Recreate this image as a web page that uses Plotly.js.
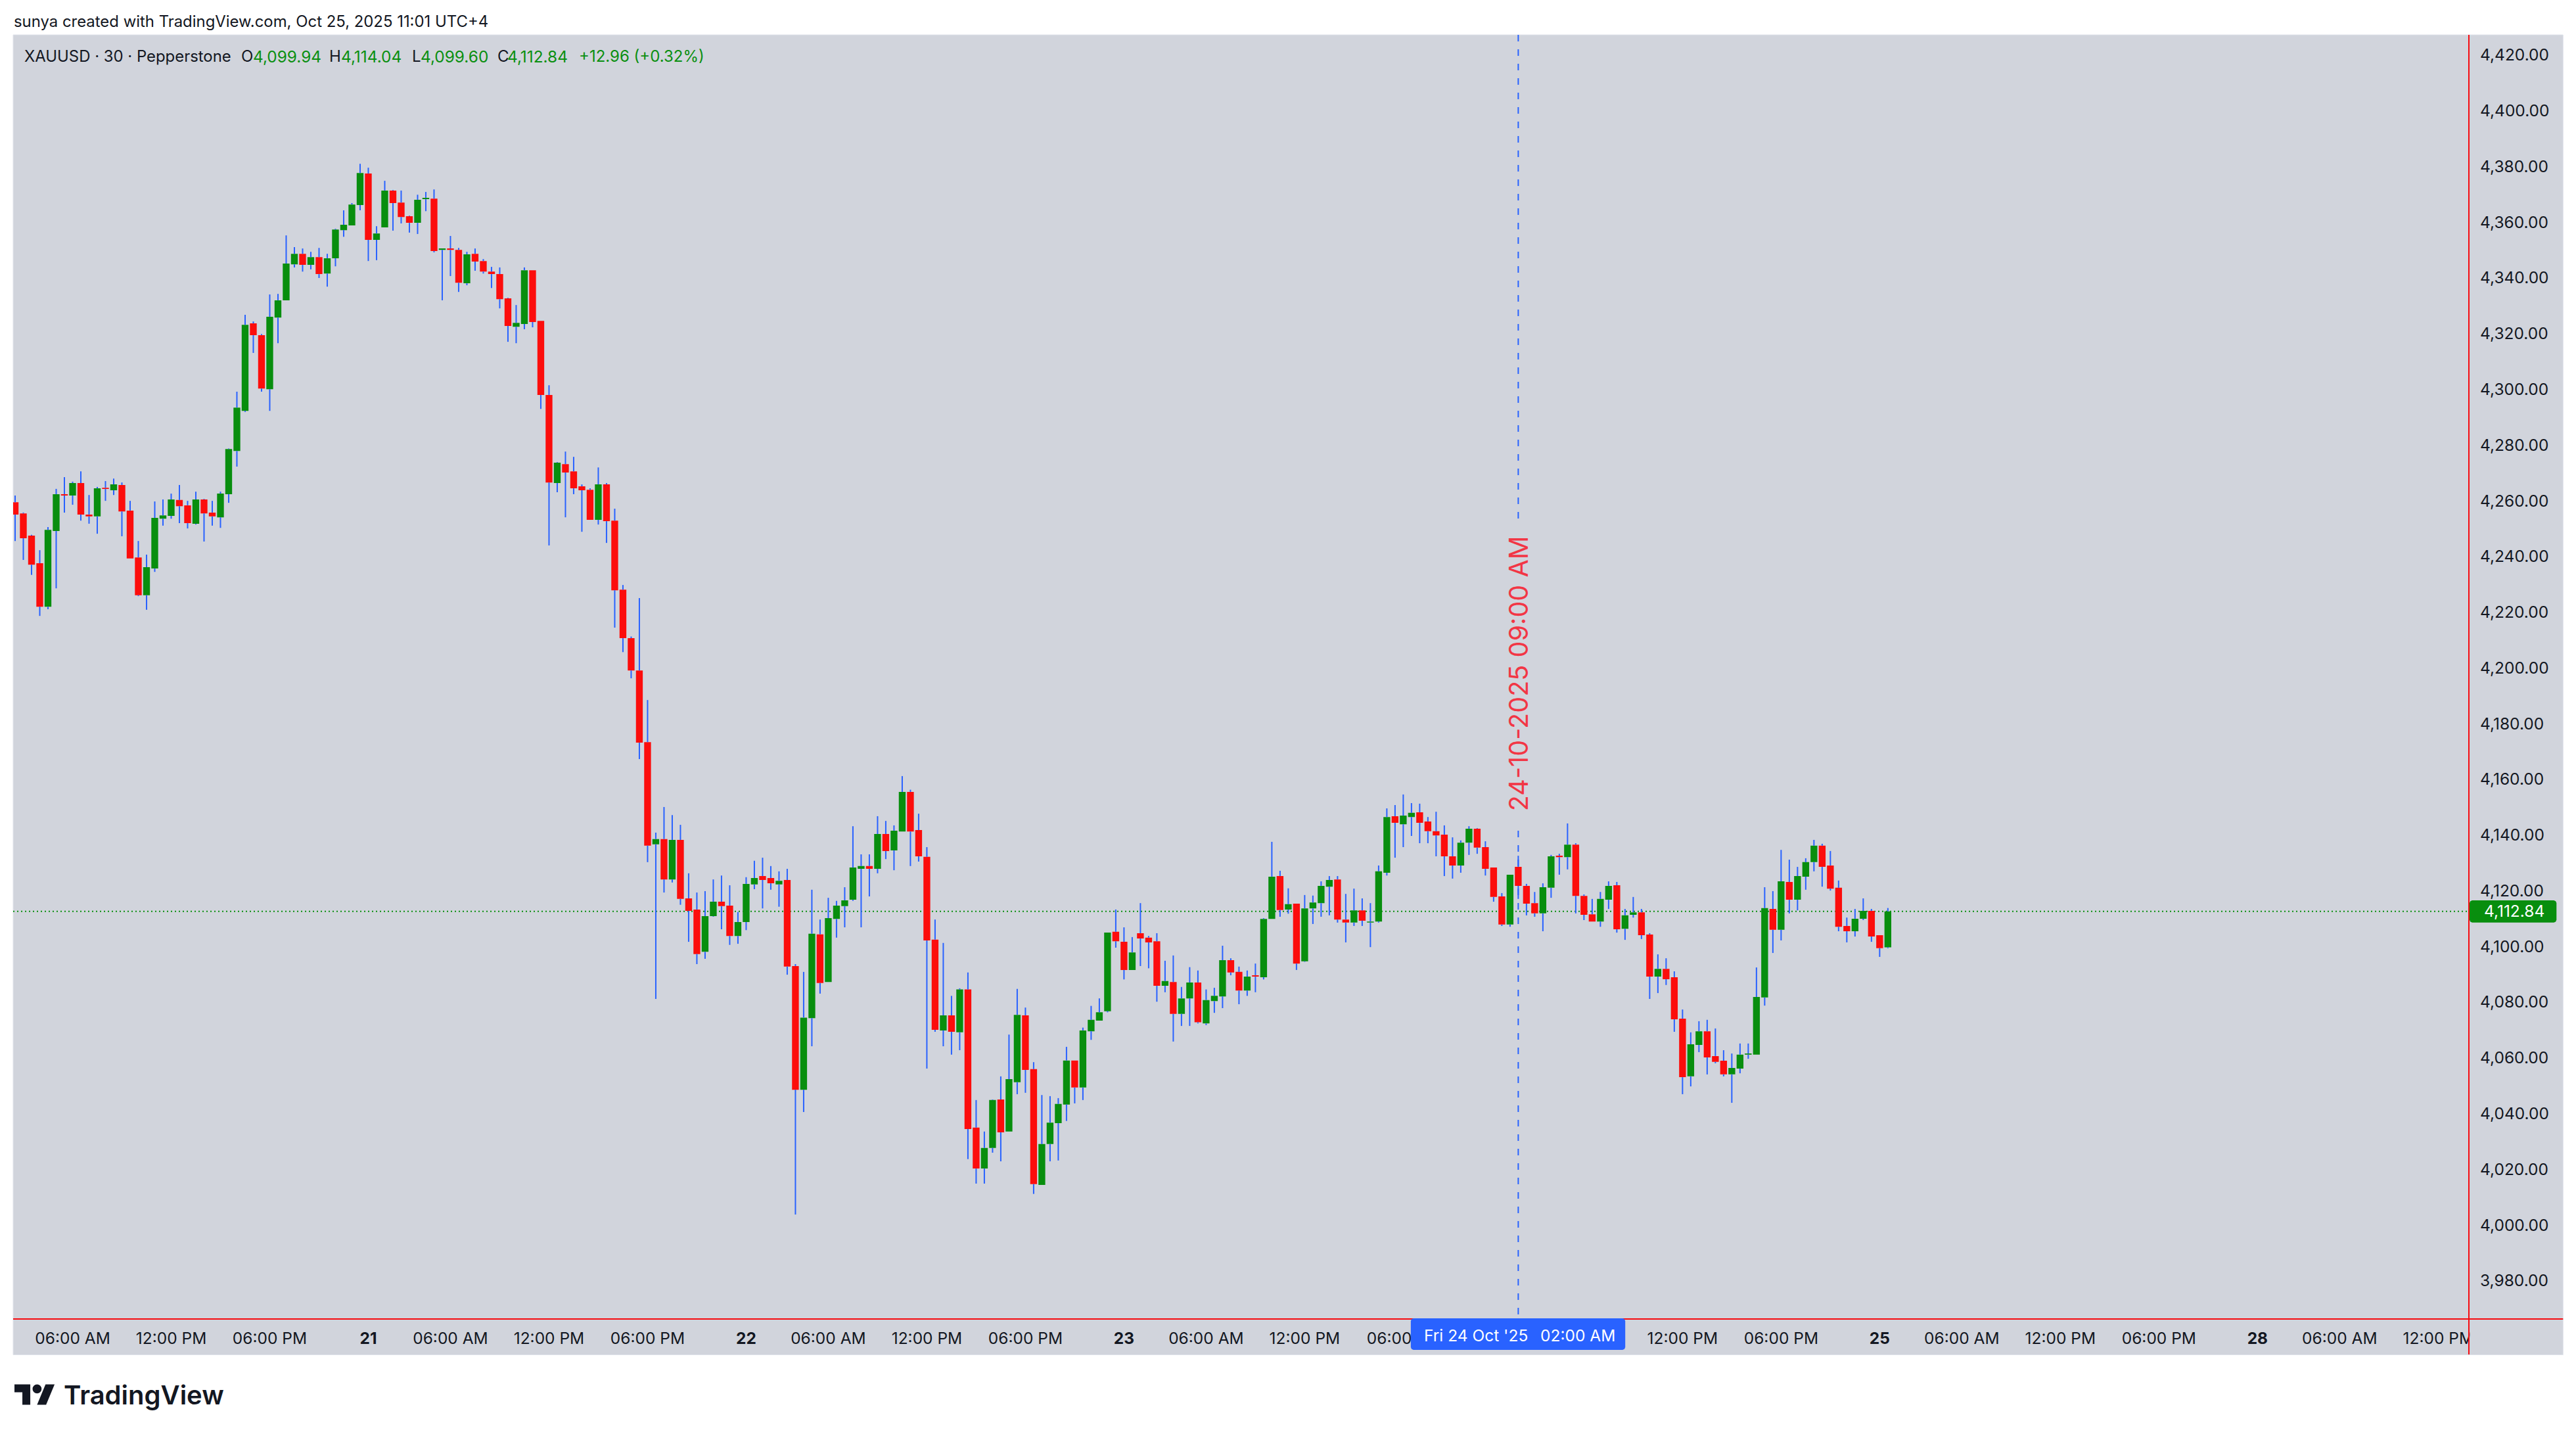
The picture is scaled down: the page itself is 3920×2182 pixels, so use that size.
<!DOCTYPE html>
<html>
<head>
<meta charset="utf-8">
<script src="https://cdn.plot.ly/plotly-3.0.1.min.js"></script>
<style>html,body{margin:0;padding:0;background:#fff}#chart{width:3920px;height:2182px}</style>
</head>
<body>
<div id="chart"></div>
<script>
var opens = [
4259.7,4255.7,4247.7,4237.8,4222.2,4249.4,4262.6,4262.1,4266.6,4255.3,
4254.6,4264.9,4264.0,4265.9,4256.7,4239.9,4226.3,4235.9,4253.8,4254.8,
4260.5,4258.6,4252.0,4260.7,4256.0,4254.3,4262.6,4278.1,4292.5,4323.9,
4319.7,4300.3,4326.0,4332.2,4345.1,4348.9,4344.9,4347.7,4341.8,4347.3,
4357.4,4359.1,4366.4,4377.7,4353.9,4358.4,4371.6,4367.3,4362.4,4360.0,
4368.5,4368.7,4350.3,4350.8,4350.3,4338.3,4348.9,4346.3,4342.5,4341.6,
4332.9,4322.7,4323.7,4343.0,4324.8,4298.2,4266.6,4273.4,4270.8,4265.4,
4264.2,4253.4,4266.1,4253.1,4228.3,4210.9,4199.3,4173.6,4136.9,4138.8,
4124.3,4138.5,4117.5,4113.5,4098.3,4111.1,4116.3,4114.9,4104.0,4109.0,
4122.5,4125.5,4124.8,4122.5,4124.1,4093.2,4048.8,4074.5,4104.6,4087.5,
4110.1,4114.7,4117.0,4128.1,4129.1,4128.1,4140.6,4134.7,4141.5,4155.7,
4142.0,4132.4,4102.7,4070.1,4075.5,4069.4,4084.8,4035.2,4020.5,4027.9,
4045.3,4033.8,4051.5,4075.5,4056.2,4014.6,4029.3,4036.8,4043.5,4059.3,
4049.6,4069.8,4073.6,4077.0,4105.5,4101.9,4091.8,4105.0,4103.4,4102.1,
4086.1,4087.5,4076.0,4081.6,4087.3,4072.6,4080.6,4082.3,4095.3,4091.1,
4084.4,4089.9,4089.2,4110.1,4125.5,4113.5,4115.6,4094.9,4113.9,4115.8,
4121.7,4124.3,4109.9,4108.8,4113.2,4108.8,4109.2,4126.7,4147.0,4144.1,
4146.7,4148.4,4145.1,4141.6,4140.4,4132.6,4129.3,4137.5,4142.5,4135.9,
4128.6,4118.2,4108.1,4128.8,4122.0,4115.8,4112.1,4121.3,4132.8,4132.3,
4136.8,4118.4,4111.8,4109.2,4117.0,4122.2,4106.6,4111.6,4112.5,4104.5,
4089.4,4092.2,4089.2,4074.3,4053.6,4064.9,4069.8,4060.9,4059.2,4054.3,
4056.4,4061.4,4061.4,4081.9,4113.7,4106.2,4123.4,4117.0,4125.3,4130.5,
4136.4,4129.3,4121.3,4107.6,4105.7,4110.2,4113.0,4104.3,4099.94];
var highs = [
4262.1,4256.0,4248.0,4242.5,4250.8,4264.5,4268.7,4267.1,4270.8,4262.3,
4265.2,4267.3,4268.2,4266.8,4260.2,4245.8,4240.9,4260.0,4260.7,4262.8,
4265.9,4260.2,4263.5,4260.9,4260.2,4263.5,4279.0,4299.4,4327.0,4324.6,
4320.1,4334.3,4334.5,4355.5,4351.3,4350.8,4349.6,4351.0,4348.9,4357.9,
4364.5,4367.1,4381.2,4379.8,4358.8,4375.1,4371.8,4371.6,4362.6,4370.1,
4371.1,4372.0,4350.8,4355.3,4351.0,4349.6,4350.8,4347.0,4344.2,4344.0,
4333.1,4330.5,4344.0,4343.0,4324.8,4301.7,4274.1,4277.9,4276.0,4266.1,
4264.7,4272.2,4266.6,4257.4,4230.0,4211.5,4225.3,4188.7,4141.1,4150.3,
4147.4,4143.9,4126.5,4119.6,4120.1,4124.3,4125.7,4122.2,4112.6,4125.1,
4131.0,4132.1,4129.1,4127.2,4128.1,4093.9,4091.1,4120.6,4109.9,4117.7,
4116.6,4121.5,4143.4,4133.3,4133.3,4147.0,4145.3,4143.7,4161.4,4156.5,
4147.9,4135.9,4109.9,4101.5,4082.5,4085.2,4090.9,4045.1,4033.8,4045.3,
4053.6,4068.6,4085.0,4078.3,4058.7,4046.9,4046.5,4045.8,4064.2,4059.3,
4071.1,4078.9,4081.6,4105.2,4113.5,4107.1,4103.6,4115.8,4104.0,4105.0,
4095.1,4097.0,4085.7,4092.8,4091.6,4084.8,4085.4,4100.5,4096.0,4093.0,
4091.6,4094.1,4110.4,4137.8,4127.4,4121.1,4115.6,4118.7,4118.5,4123.6,
4125.5,4125.5,4119.1,4121.0,4117.5,4115.8,4129.3,4149.8,4151.0,4154.8,
4151.7,4151.5,4146.7,4148.6,4143.7,4139.4,4138.3,4143.4,4142.7,4138.0,
4128.6,4119.4,4126.0,4132.8,4122.7,4119.8,4122.9,4133.1,4133.5,4144.4,
4137.3,4118.9,4117.3,4119.8,4123.6,4123.4,4113.7,4118.0,4113.7,4105.0,
4097.4,4096.0,4091.3,4077.6,4069.4,4073.4,4073.9,4070.8,4063.0,4061.8,
4065.4,4065.4,4092.7,4121.5,4120.1,4134.9,4131.4,4128.8,4131.9,4138.5,
4137.1,4134.5,4123.9,4110.6,4113.7,4117.5,4113.7,4104.3,4114.04];
var lows = [
4245.8,4239.0,4233.6,4218.9,4221.3,4228.8,4256.0,4258.8,4253.1,4252.0,
4248.4,4260.2,4262.3,4247.5,4239.5,4226.0,4221.1,4234.7,4251.3,4253.8,
4252.2,4250.3,4251.7,4245.6,4251.3,4250.5,4259.5,4272.5,4292.1,4313.3,
4299.4,4292.5,4316.8,4332.2,4344.0,4342.5,4343.3,4340.2,4337.1,4344.4,
4355.0,4359.1,4364.5,4346.3,4346.6,4358.4,4357.2,4359.8,4356.5,4356.0,
4364.2,4349.4,4332.2,4340.9,4335.2,4337.6,4342.8,4341.8,4336.6,4329.3,
4317.3,4316.8,4321.8,4322.5,4293.2,4244.2,4263.3,4254.3,4262.6,4249.1,
4253.4,4251.7,4245.1,4214.7,4205.9,4196.5,4167.5,4130.5,4081.4,4119.6,
4123.2,4115.2,4101.9,4093.9,4095.8,4110.9,4106.4,4100.8,4101.2,4106.1,
4120.8,4113.9,4120.6,4114.5,4090.1,4004.0,4040.8,4064.4,4083.3,4087.5,
4103.4,4107.1,4116.6,4107.1,4118.2,4126.5,4131.6,4127.6,4141.5,4129.1,
4130.7,4056.4,4069.6,4064.4,4061.4,4063.0,4023.9,4015.1,4015.1,4026.2,
4023.1,4033.8,4047.2,4047.7,4011.4,4014.6,4023.1,4023.4,4037.6,4043.9,
4045.1,4066.7,4073.6,4076.6,4099.8,4088.4,4091.8,4093.2,4092.4,4080.4,
4083.8,4066.1,4071.7,4071.7,4072.6,4072.0,4076.4,4078.1,4089.9,4079.5,
4082.5,4083.8,4088.4,4110.1,4110.9,4112.0,4091.8,4094.7,4108.3,4110.9,
4111.4,4108.8,4101.7,4107.6,4107.6,4100.0,4108.8,4125.7,4132.1,4135.9,
4139.9,4137.3,4137.3,4132.6,4125.5,4124.6,4126.7,4133.1,4133.5,4125.7,
4116.3,4107.6,4107.3,4117.3,4111.4,4110.9,4105.7,4117.7,4126.0,4127.9,
4112.1,4109.7,4109.2,4107.3,4113.7,4105.2,4102.6,4110.6,4102.9,4081.4,
4083.5,4086.4,4069.6,4047.2,4050.0,4062.3,4054.3,4058.3,4053.6,4044.1,
4054.7,4059.9,4061.4,4079.0,4097.9,4102.4,4112.1,4113.2,4120.6,4127.2,
4121.7,4120.3,4105.7,4101.7,4103.8,4109.7,4101.9,4096.5,4099.60];
var closes = [
4255.3,4246.8,4237.3,4222.2,4249.8,4262.6,4262.1,4266.6,4255.3,4254.6,
4264.7,4264.5,4266.1,4256.4,4239.5,4226.3,4236.4,4254.1,4255.0,4260.7,
4258.3,4252.2,4260.7,4255.7,4254.6,4262.8,4278.8,4293.7,4323.4,4319.7,
4300.5,4326.3,4332.2,4345.4,4348.9,4344.9,4347.7,4341.6,4347.3,4357.6,
4359.3,4366.6,4377.9,4353.9,4356.2,4371.6,4367.1,4362.1,4360.0,4368.3,
4369.0,4349.9,4350.8,4350.3,4338.5,4348.7,4346.1,4342.5,4341.6,4332.6,
4323.0,4324.1,4343.0,4324.4,4298.2,4266.8,4273.9,4270.4,4264.7,4264.0,
4253.4,4266.1,4252.9,4228.1,4210.9,4199.3,4173.4,4136.4,4138.8,4124.3,
4138.5,4117.3,4113.0,4097.5,4111.1,4116.3,4114.7,4104.0,4109.0,4122.7,
4124.8,4124.1,4122.9,4123.8,4093.0,4048.8,4074.7,4104.8,4087.1,4110.4,
4114.9,4116.8,4128.6,4129.1,4128.1,4140.6,4134.5,4141.8,4155.7,4141.5,
4132.6,4102.4,4070.3,4075.5,4069.6,4084.8,4034.7,4020.5,4027.9,4045.1,
4033.5,4052.6,4075.7,4055.9,4014.9,4029.3,4037.0,4043.7,4059.3,4049.6,
4070.1,4073.9,4076.6,4105.2,4102.1,4091.8,4098.1,4103.1,4101.7,4086.1,
4087.8,4076.0,4081.6,4087.3,4073.0,4081.0,4082.5,4095.3,4090.9,4084.4,
4089.4,4089.4,4110.1,4125.3,4113.3,4115.4,4094.1,4113.9,4116.0,4122.0,
4124.1,4109.9,4108.8,4113.2,4109.5,4109.2,4127.2,4146.7,4144.6,4147.2,
4148.2,4144.6,4141.6,4140.1,4132.6,4129.3,4137.5,4142.5,4135.7,4128.1,
4118.0,4108.1,4126.0,4122.0,4115.6,4112.1,4121.5,4132.6,4132.3,4136.8,
4118.4,4111.6,4109.2,4117.3,4122.0,4106.4,4111.4,4112.5,4104.3,4089.4,
4092.2,4088.5,4074.1,4053.3,4065.1,4069.8,4060.4,4058.8,4054.3,4056.6,
4061.4,4061.8,4082.1,4114.0,4106.2,4123.6,4117.0,4125.5,4130.5,4136.4,
4128.8,4121.0,4107.3,4105.7,4110.2,4113.0,4103.8,4099.6,4112.84];

var xTickPositions = [7,19,31,43,53,65,77,89,99,111,123,135,145,157,167.3,203,215,227,237,249,261,273,283,295];
var xTickLabels = ['06:00 AM','12:00 PM','06:00 PM','<b>21</b>','06:00 AM','12:00 PM','06:00 PM','<b>22</b>','06:00 AM','12:00 PM','06:00 PM','<b>23</b>','06:00 AM','12:00 PM','06:00','12:00 PM','06:00 PM','<b>25</b>','06:00 AM','12:00 PM','06:00 PM','<b>28</b>','06:00 AM','12:00 PM'];
var yTickValues = [3980,4000,4020,4040,4060,4080,4100,4120,4140,4160,4180,4200,4220,4240,4260,4280,4300,4320,4340,4360,4380,4400,4420];
var lastPrice = 4112.84;
var markedBar = 183;

var BG = '#d1d4dc', RED = '#fc0d0c', GREEN = '#088e0e', BLUE = '#2962ff', INK = '#131722', LINE_RED = '#f60a0f';
var FONT = 'Inter, "Noto Sans", sans-serif';
var L = 20, R = 3756.7, T = 53, B = 2007;
function px(x){ return (x - L) / (R - L); }
function py(y){ return (B - y) / (B - T); }

var index = opens.map(function(_, i){ return i; });
var wx = [], wy = [];
index.forEach(function(i){
  var top = Math.max(opens[i], closes[i]), bot = Math.min(opens[i], closes[i]);
  if (highs[i] > top) { wx.push(i, i, null); wy.push(top, highs[i], null); }
  if (lows[i] < bot) { wx.push(i, i, null); wy.push(bot, lows[i], null); }
});

var traces = [
  { type:'candlestick', x:index, open:opens, close:closes,
    high:index.map(function(i){ return Math.max(opens[i], closes[i]); }),
    low:index.map(function(i){ return Math.min(opens[i], closes[i]); }),
    whiskerwidth:0,
    increasing:{ line:{ color:GREEN, width:0 }, fillcolor:GREEN },
    decreasing:{ line:{ color:RED, width:0 }, fillcolor:RED },
    hoverinfo:'skip', showlegend:false },
  { type:'scatter', mode:'lines', x:wx, y:wy, connectgaps:false,
    line:{ color:BLUE, width:2 }, hoverinfo:'skip', showlegend:false }
];

function rrect(x0, y0, x1, y1, r, fill){
  var p = function(x,y){ return px(x) + ',' + py(y); };
  var c = r * 0.3;
  return { type:'path', xref:'paper', yref:'paper', layer:'above', fillcolor:fill, line:{ width:0 },
    path:'M' + p(x0+r,y0) + ' L' + p(x1-r,y0) + ' L' + p(x1-c,y0+c) + ' L' + p(x1,y0+r) +
         ' L' + p(x1,y1-r) + ' L' + p(x1-c,y1-c) + ' L' + p(x1-r,y1) + ' L' + p(x0+r,y1) +
         ' L' + p(x0+c,y1-c) + ' L' + p(x0,y1-r) + ' L' + p(x0,y0+r) + ' L' + p(x0+c,y0+c) + ' Z' };
}
function box(x0,y0,x1,y1,fill,layer,lineColor){
  return { type:'rect', xref:'paper', yref:'paper', layer:layer||'below',
    x0:px(x0), x1:px(x1), y0:py(y0), y1:py(y1), fillcolor:fill,
    line: lineColor ? { color:lineColor, width:1 } : { width:0 } };
}
function logoPoly(pts){
  var s = 1.72, ox = 22, oy = 2122 - 13 * s;
  return { type:'path', xref:'paper', yref:'paper', layer:'above', fillcolor:INK, line:{ width:0 },
    path:'M' + pts.map(function(q){ return px(ox + q[0]*s) + ',' + py(oy + q[1]*s); }).join(' L') + ' Z' };
}

var shapes = [
  box(20, 53, 3900, 2061.5, BG, 'below', '#e0e3eb'),
  { type:'line', xref:'paper', yref:'y', layer:'below', x0:0, x1:px(3754), y0:lastPrice, y1:lastPrice,
    line:{ color:GREEN, width:2, dash:'2px,4px' } },
  { type:'line', xref:'x', yref:'paper', layer:'below', x0:markedBar, x1:markedBar, y0:py(53), y1:py(795),
    line:{ color:BLUE, width:2, dash:'10px,12px' } },
  { type:'line', xref:'x', yref:'paper', layer:'below', x0:markedBar, x1:markedBar, y0:py(1264), y1:py(2007),
    line:{ color:BLUE, width:2, dash:'10px,12px' } },
  box(3758, 2010, 3899, 2060, BG, 'above'),
  { type:'line', xref:'paper', yref:'paper', layer:'above', x0:px(R), x1:px(R), y0:py(53), y1:py(2061),
    line:{ color:LINE_RED, width:2 } },
  { type:'line', xref:'paper', yref:'paper', layer:'above', x0:px(20), x1:px(3900), y0:0, y1:0,
    line:{ color:LINE_RED, width:2 } },
  rrect(3757.7, 1370, 3890, 1403.7, 4, GREEN),
  rrect(2146.7, 2006, 2473, 2054, 4, BLUE),
  logoPoly([[14,22],[7,22],[7,11],[0,11],[0,4],[14,4]]),
  logoPoly([[28,22],[20,22],[27.5,4],[35.5,4]]),
  { type:'circle', xref:'paper', yref:'paper', layer:'above', fillcolor:INK, line:{ width:0 },
    x0:px(22 + 16*1.72), x1:px(22 + 24*1.72),
    y0:py(2122 - 13*1.72 + 4*1.72), y1:py(2122 - 13*1.72 + 12*1.72) }
];

function note(text, x, y, size, color, extra){
  var a = { text:text, xref:'paper', yref:'paper', x:px(x), y:py(y), xanchor:'left', yanchor:'middle',
    showarrow:false, borderpad:0, font:{ family:FONT, size:size, color:color } };
  for (var k in extra) a[k] = extra[k];
  return a;
}
var FS = 24.5, TG = '#0a8f10';
var annotations = [
  note('sunya created with TradingView.com, Oct 25, 2025 11:01 UTC+4', 20, 32, 23.9, '#131722'),
  note('XAUUSD · 30 · Pepperstone', 36, 86, 23.9, INK),
  note('O', 366, 86, 24, INK), note('4,099.94', 384, 86, 24.4, TG),
  note('H', 500, 86, 24, INK), note('4,114.04', 518, 86, 24.4, TG),
  note('L', 626, 86, 24, INK), note('4,099.60', 639, 86, 24.4, TG),
  note('C', 756, 86, 24, INK), note('4,112.84', 771, 86, 24.4, TG),
  note('+12.96 (+0.32%)', 880, 86, 24, TG),
  note('4,112.84', 3826, 1386, FS, '#ffffff', { xanchor:'center' }),
  note("Fri 24 Oct '25", 2166, 2032, FS, '#ffffff'),
  note('02:00 AM', 2343, 2032, FS, '#ffffff'),
  note('24-10-2025 09:00 AM', 2311, 1025, 39.6, '#f23645', { xanchor:'center', textangle:-90 }),
  { text:'TradingView', xref:'paper', yref:'paper', x:px(95), y:py(2122), xanchor:'left', yanchor:'middle',
    showarrow:false, font:{ family:FONT, size:40, color:INK, weight:600 } }
];

var layout = {
  width:3920, height:2182, autosize:false,
  margin:{ l:L, r:3920-R, t:T, b:2182-B, pad:0 },
  paper_bgcolor:'#ffffff', plot_bgcolor:BG,
  showlegend:false, boxmode:'overlay', boxgap:0.17, boxgroupgap:0,
  xaxis:{ type:'linear', range:[-0.24, 298.736], showgrid:false, zeroline:false, showline:false,
    rangeslider:{ visible:false }, tickmode:'array', tickvals:xTickPositions, ticktext:xTickLabels,
    ticks:'', ticklabelstandoff:12, tickangle:0, tickfont:{ family:FONT, size:FS, color:INK } },
  yaxis:{ type:'linear', side:'right', range:[3966.5, 4427.5], showgrid:false, zeroline:false, showline:false,
    tickmode:'array', tickvals:yTickValues, tickformat:',.2f',
    ticks:'', ticklabelstandoff:16, ticklabelshift:-1, tickfont:{ family:FONT, size:FS, color:INK } },
  shapes:shapes, annotations:annotations
};
Plotly.newPlot('chart', traces, layout, { displayModeBar:false, staticPlot:true });
</script>
</body>
</html>
